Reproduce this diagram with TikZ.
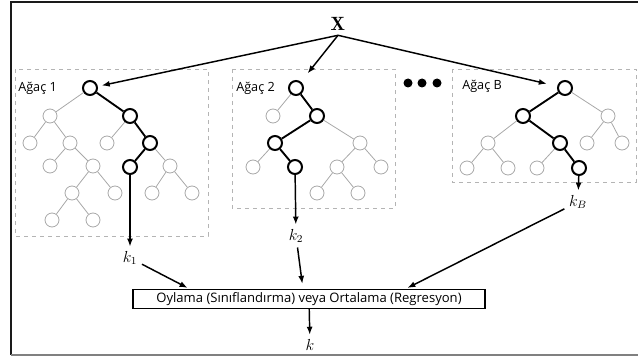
\documentclass[tikz,border=0pt]{standalone}
\usepackage{amsmath}
\usepackage{fontspec}
\setsansfont{Open Sans}
\usetikzlibrary{arrows.meta, positioning, calc}
\definecolor{lgray}{HTML}{A8A8A8}
\definecolor{boxgray}{HTML}{B4B4B4}
\definecolor{frame}{HTML}{1A1A1A}

\tikzset{
  lnode/.style={circle, draw=lgray, line width=0.6pt, minimum size=10.5pt, inner sep=0pt, fill=white},
  bnode/.style={circle, draw=black, line width=1.5pt, minimum size=10.5pt, inner sep=0pt, fill=white},
  ledge/.style={lgray, line width=0.6pt},
  bedge/.style={black, line width=1.4pt},
  arr/.style={-{Latex[length=6pt, width=4.5pt]}, line width=1.1pt},
  treebox/.style={boxgray, dashed, line width=0.6pt},
  tlabel/.style={font=\sffamily\fontsize{9.5}{11}\selectfont, anchor=west, inner sep=0pt}
}

\begin{document}
\begin{tikzpicture}[x=0.75pt, y=-0.75pt]

\useasboundingbox (0,0) rectangle (638,356);

% Frame
\draw[frame, line width=1.5pt] (638,2) -- (11,2) -- (11,355);
\draw[gray, line width=1.5pt] (11,355) -- (638,355);

% Input
\node[font=\Large] (xin) at (338,24) {$\mathbf{X}$};

% Tree 1
\draw[treebox] (15,69) rectangle (208,236);
\node[tlabel] (lab1) at (18,88) {Ağaç 1};
\foreach \n/\x/\y in {0/90/88, 2/130/116, 6/150/143, 9/130/167}
  \node[bnode] (t1n\n) at (\x,\y) {};
\foreach \n/\x/\y in {1/50/116, 3/30/143, 4/70/143, 5/107/143, 7/50/166, 8/93/166,
    10/170/166, 11/72/193, 12/115/193, 13/152/193, 14/192/193, 15/52/220, 16/93/220}
  \node[lnode] (t1n\n) at (\x,\y) {};
\foreach \a/\b in {0/1, 1/3, 1/4, 2/5, 4/7, 4/8, 6/10, 8/11, 8/12, 10/13, 10/14, 11/15, 11/16}
  \draw[ledge] (t1n\a) -- (t1n\b);
\foreach \a/\b in {0/2, 2/6, 6/9}
  \draw[bedge] (t1n\a) -- (t1n\b);

% Tree 2
\draw[treebox] (232,69) rectangle (395,208);
\node[tlabel] (lab2) at (236,88) {Ağaç 2};
\foreach \n/\x/\y in {0/296/88, 2/317/116, 3/275/143, 6/295/167}
  \node[bnode] (t2n\n) at (\x,\y) {};
\foreach \n/\x/\y in {1/273/116, 4/360/143, 5/253/167, 7/337/167, 8/381/167,
    9/317/193, 10/358/193}
  \node[lnode] (t2n\n) at (\x,\y) {};
\foreach \a/\b in {0/1, 2/4, 3/5, 4/7, 4/8, 7/9, 7/10}
  \draw[ledge] (t2n\a) -- (t2n\b);
\foreach \a/\b in {0/2, 2/3, 3/6}
  \draw[bedge] (t2n\a) -- (t2n\b);

% Dots
\foreach \x in {408,422,437}
  \fill (\x,83) circle (4.5);

% Tree B
\draw[treebox] (452,69) rectangle (636,182);
\node[tlabel] (labB) at (462,86) {Ağaç B};
\foreach \n/\x/\y in {0/565/88, 1/523/116, 4/560/143, 10/579/168}
  \node[bnode] (tBn\n) at (\x,\y) {};
\foreach \n/\x/\y in {2/608/116, 3/488/143, 5/587/143, 6/622/143, 7/467/168,
    8/508/168, 9/537/168}
  \node[lnode] (tBn\n) at (\x,\y) {};
\foreach \a/\b in {0/2, 1/3, 2/5, 2/6, 3/7, 3/8, 4/9}
  \draw[ledge] (tBn\a) -- (tBn\b);
\foreach \a/\b in {0/1, 1/4, 4/10}
  \draw[bedge] (tBn\a) -- (tBn\b);

% Input arrows
\draw[arr, shorten >=3pt] (xin.south) -- (t1n0);
\draw[arr, shorten >=8pt] (xin.south) -- (t2n0);
\draw[arr, shorten >=8pt] (xin.south) -- (tBn0);

% Outputs
\node[font=\large] (k1) at (130,258) {$k_1$};
\node[font=\large] (k2) at (296,236) {$k_2$};
\node[font=\large] (kB) at (578,202) {$k_B$};
\draw[arr] (t1n9) -- (k1);
\draw[arr] (t2n6) -- (k2);
\draw[arr] (tBn10) -- (kB);

% Aggregation
\node[draw, line width=0.8pt, inner sep=2pt, minimum width=264pt, minimum height=14pt,
  font=\sffamily\fontsize{9.8}{11}\selectfont] (agg) at (309,299)
  {Oylama (Sınıflandırma) veya Ortalama (Regresyon)};
\draw[arr, shorten >=2pt] (k1) -- (190,0 |- agg.north);
\draw[arr, shorten >=4pt] (k2) -- (303,0 |- agg.north);
\draw[arr, shorten >=2pt] (kB) -- (405,0 |- agg.north);

\node[font=\large] (kout) at (310,345) {$k$};
\draw[arr] (agg) -- (kout);

\end{tikzpicture}
\end{document}
